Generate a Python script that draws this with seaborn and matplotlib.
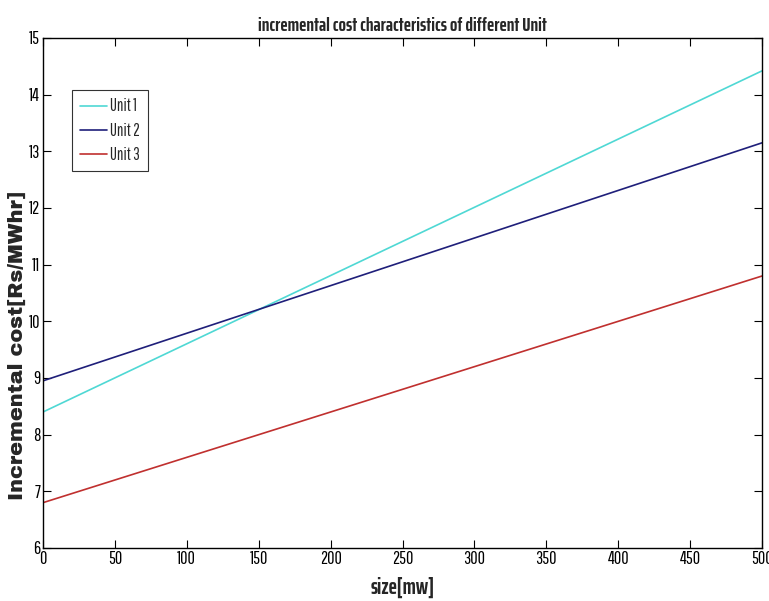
import pandas as pd
import matplotlib
matplotlib.use("Agg")
import matplotlib.pyplot as plt
import seaborn as sns

# values (straight lines, endpoints)
size_mw = [0, 500]
unit1 = [8.40, 14.42]
unit2 = [8.95, 13.15]
unit3 = [6.80, 10.80]

units = ["Unit 1", "Unit 2", "Unit 3"]
colors = ["#4fd8d4", "#1f1f7a", "#c0302f"]

x_ticks = [0, 50, 100, 150, 200, 250, 300, 350, 400, 450, 500]
y_ticks = [6, 7, 8, 9, 10, 11, 12, 13, 14, 15]

rows = []
for name, vals in zip(units, [unit1, unit2, unit3]):
    for x, y in zip(size_mw, vals):
        rows.append({"size": x, "cost": y, "unit": name})
df = pd.DataFrame(rows)

sns.set_style("ticks")
narrow = ["Pathway Gothic One", "DejaVu Sans"]
bold_narrow = ["Saira ExtraCondensed", "DejaVu Sans"]
plt.rcParams["font.family"] = narrow

fig = plt.figure(figsize=(7.69, 6.01), dpi=100)
ax = fig.add_axes([43 / 769, 1 - 548 / 601, (762 - 43) / 769, (548 - 38) / 601])

sns.lineplot(data=df, x="size", y="cost", hue="unit", palette=colors,
             linewidth=1.2, ax=ax)

ax.set_xlim(0, 500)
ax.set_ylim(6, 15)
ax.set_xticks(x_ticks)
ax.set_yticks(y_ticks)
ax.tick_params(direction="in", length=6, width=0.8, top=True, right=True,
               labelsize=13, colors="black", pad=2)
ax.tick_params(axis="x", labeltop=False)
ax.tick_params(axis="y", labelright=False)
for sp in ax.spines.values():
    sp.set_visible(True)
    sp.set_color("black")
    sp.set_linewidth(1.0)

ax.set_xlabel("size[mw]", fontsize=16, fontweight="bold",
              family=bold_narrow, labelpad=7)
ax.set_ylabel("Incremental cost[Rs/MWhr]", fontsize=15,
              family=["Archivo Black", "DejaVu Sans"])
ax.yaxis.set_label_coords(-0.023, 0.396)
ax.set_title("incremental cost characteristics of different Unit",
             fontsize=14, fontweight="bold", family=bold_narrow, pad=5)

leg = ax.legend(loc="upper left", bbox_to_anchor=(0.04, 0.898), frameon=True,
                fontsize=12, handlelength=1.6, handletextpad=0.2,
                borderpad=0.5, labelspacing=0.5, fancybox=False,
                borderaxespad=0)
leg.get_frame().set_edgecolor("black")
leg.get_frame().set_linewidth(0.8)

fig.savefig("out.png", dpi=100)
